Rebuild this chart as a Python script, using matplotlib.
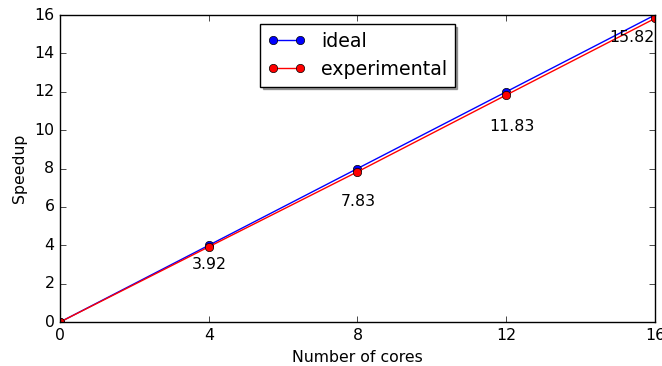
import matplotlib
matplotlib.use("Agg")
import matplotlib.pyplot as plt

cores = [0, 4, 8, 12, 16]
ideal = [0, 4, 8, 12, 16]
experimental = [0, 3.92, 7.83, 11.83, 15.82]
x_ticks = [0, 4, 8, 12, 16]
y_ticks = [0, 2, 4, 6, 8, 10, 12, 14, 16]

# where each speedup label sits, relative to its point (pixels) and alignment
label_offsets = [(1, -10), (1, -22), (6, -24), (0, -12)]
label_align = ["center", "center", "center", "right"]

plt.style.use("classic")
fig = plt.figure(figsize=(6.62, 3.66), dpi=100, facecolor="white")
ax = fig.add_axes([0.0906, 0.120, 0.8988, 0.839])

ax.plot(cores, ideal, "b-o", label="ideal")
ax.plot(cores, experimental, "r-o", label="experimental")

for x, y, off, ha in zip(cores[1:], experimental[1:], label_offsets, label_align):
    ax.annotate("%.2f" % y, xy=(x, y), xytext=off, textcoords="offset pixels",
                ha=ha, va="top", fontsize=11.3)

ax.set_xlim(0, 16)
ax.set_ylim(0, 16)
ax.set_xticks(x_ticks)
ax.set_yticks(y_ticks)
ax.tick_params(labelsize=11.3)
ax.set_xlabel("Number of cores", fontsize=11.3)
ax.set_ylabel("Speedup", fontsize=11.3)

ax.legend(loc="upper left", bbox_to_anchor=(0.336, 0.971), borderaxespad=0,
          shadow=True, fontsize=13.7, numpoints=2)

fig.savefig("out.png", dpi=100, facecolor="white")
